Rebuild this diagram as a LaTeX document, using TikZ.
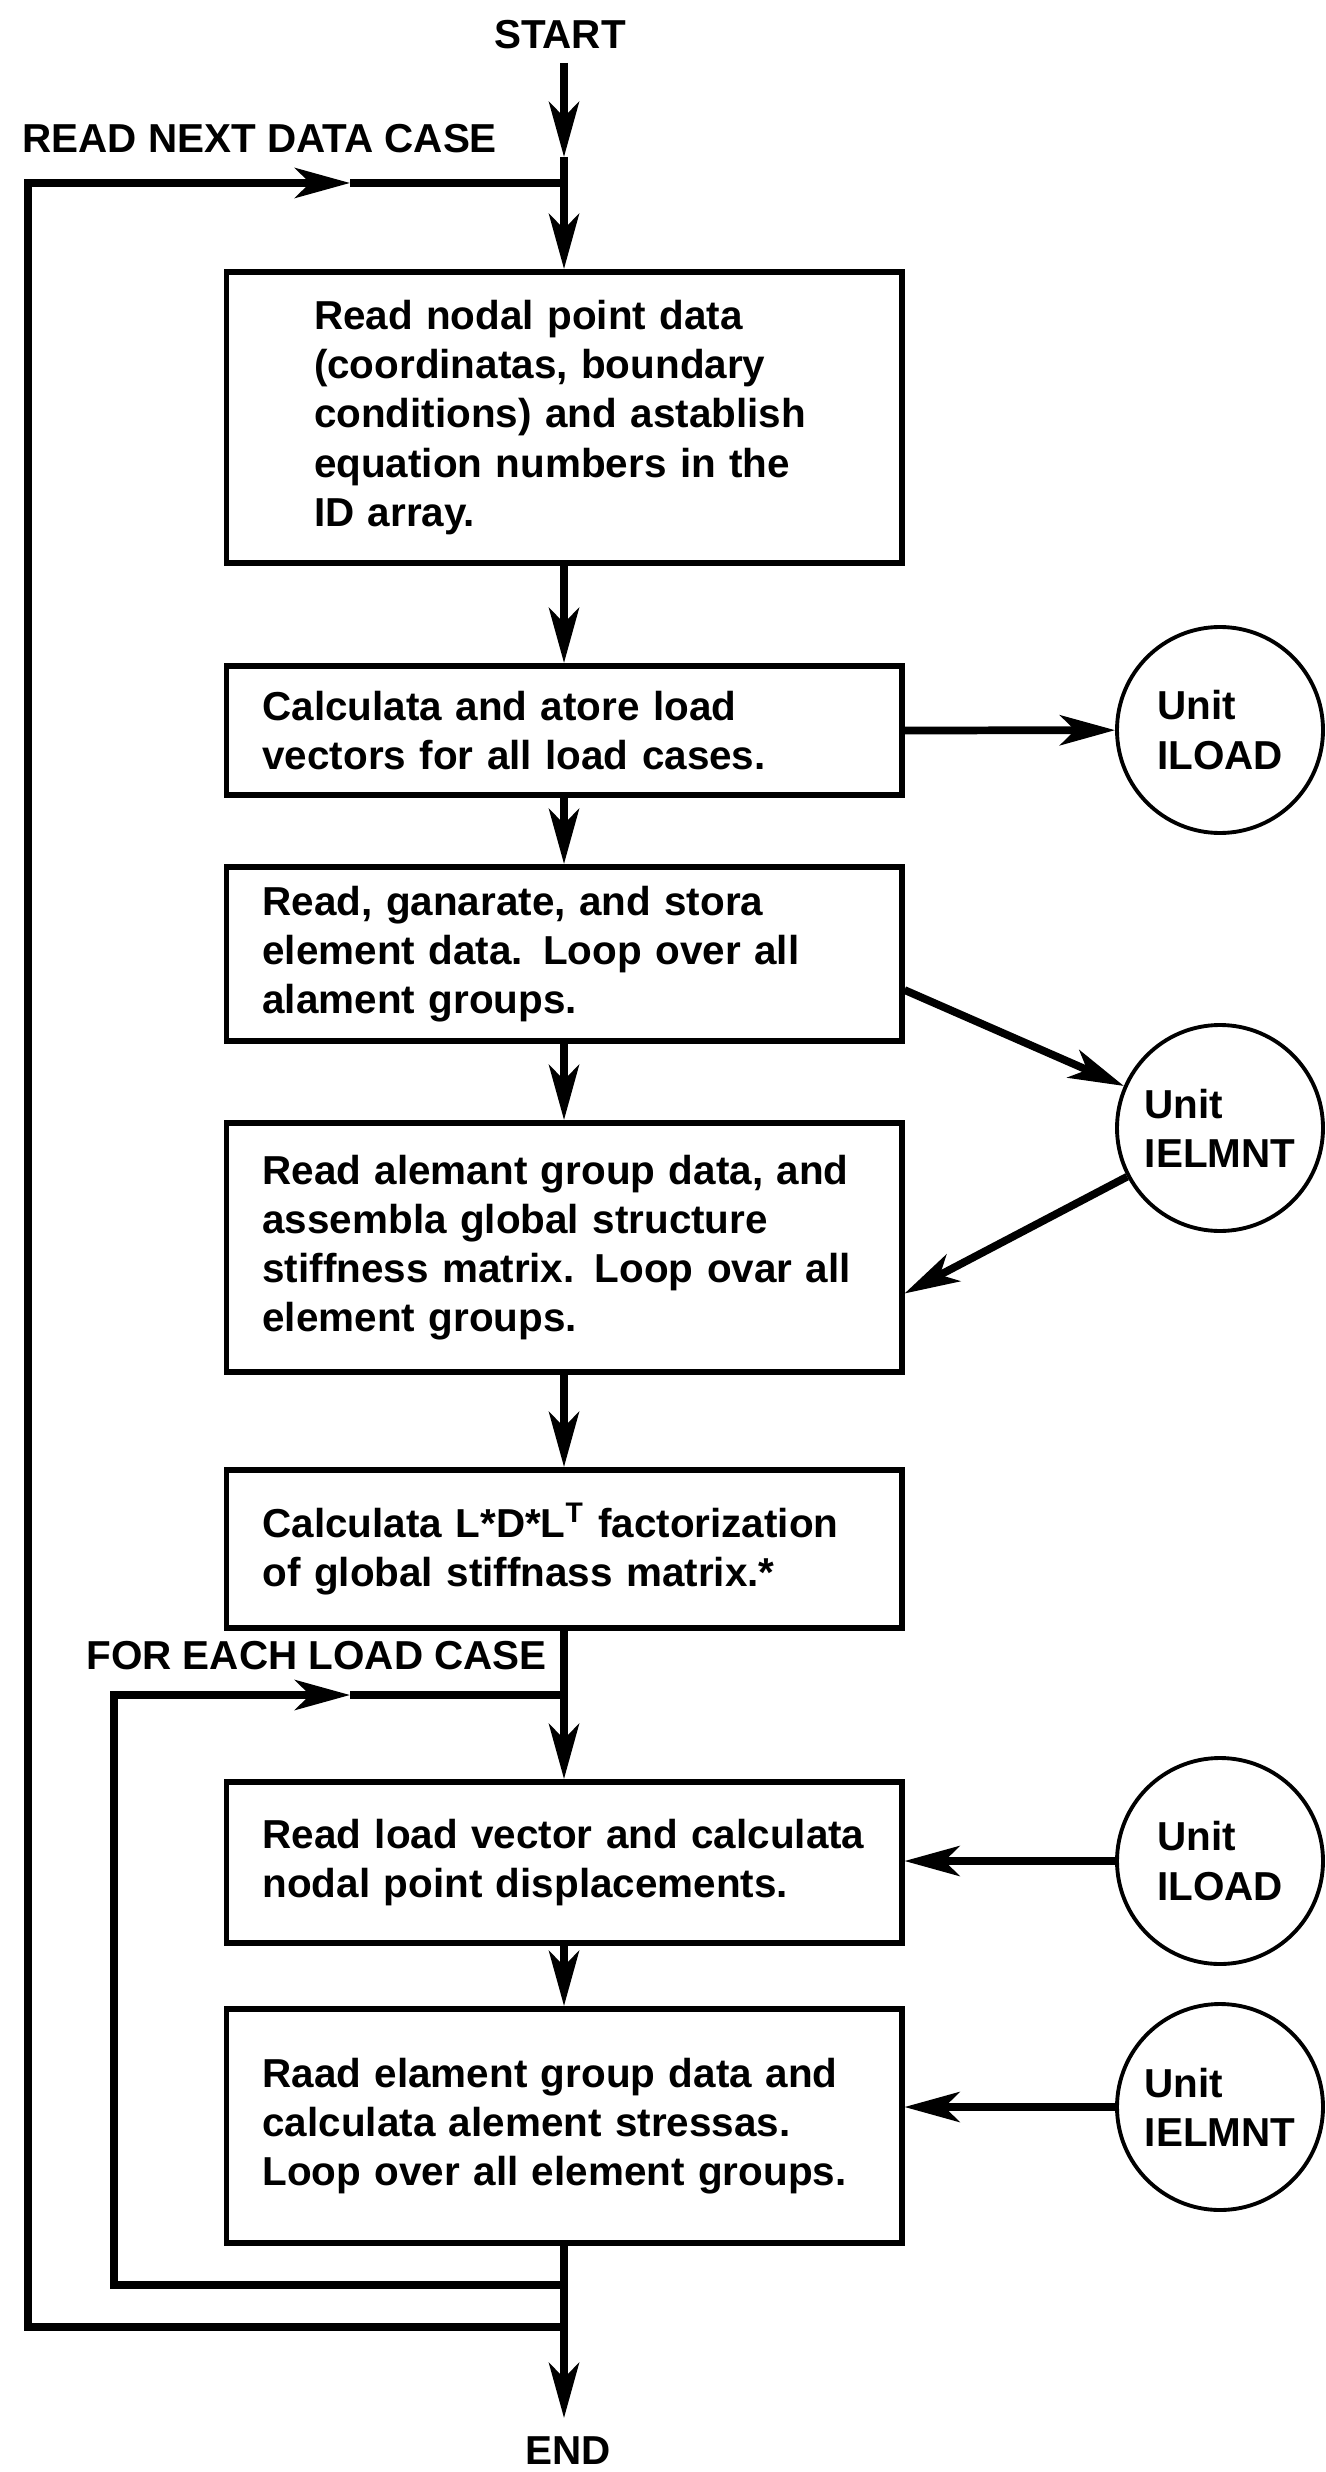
\documentclass[tikz,border=0pt]{standalone}
\usepackage{fontspec}
\setmainfont{Liberation Sans}
\usetikzlibrary{arrows.meta}

\begin{document}
\begin{tikzpicture}[
    font=\bfseries\fontsize{11.5}{14}\selectfont,
    stepbox/.style={draw, line width=1.7pt, minimum width=6.75cm, text width=6.03cm, inner xsep=0.36cm, align=left},
    unit/.style={draw, circle, line width=1.1pt, minimum size=2.06cm, inner sep=0pt, align=left},
    flow/.style={line width=2.2pt, -{Stealth[length=5.5mm, width=3mm, inset=1.5mm]}},
    link/.style={line width=2.2pt}
]
    \useasboundingbox (0,0) rectangle (13.25,-24.72);

    % Steps of the program
    \node[stepbox, text width=5cm, inner xsep=0.875cm, minimum height=2.91cm] (b1) at (5.64,-4.175) {Read nodal point data\\(coordinatas, boundary\\conditions) and astablish\\equation numbers in the\\ID array.};
    \node[stepbox, minimum height=1.29cm] (b2) at (5.64,-7.305) {Calculata and atore load\\vectors for all load cases.};
    \node[stepbox, minimum height=1.74cm] (b3) at (5.64,-9.54) {Read, ganarate, and stora\\element data. Loop over all\\alament groups.};
    \node[stepbox, minimum height=2.49cm] (b4) at (5.64,-12.475) {Read alemant group data, and\\assembla global structure\\stiffness matrix. Loop ovar all\\element groups.};
    \node[stepbox, minimum height=1.58cm] (b5) at (5.64,-15.49) {Calculata L*D*L\textsuperscript{T} factorization\\of global stiffnass matrix.*};
    \node[stepbox, minimum height=1.61cm] (b6) at (5.64,-18.625) {Read load vector and calculata\\nodal point displacements.};
    \node[stepbox, minimum height=2.34cm] (b7) at (5.64,-21.26) {Raad elament group data and\\calculata alement stressas.\\Loop over all element groups.};

    % Units
    \node[unit] (u1) at (12.2,-7.30) {Unit\\ILOAD};
    \node[unit] (u2) at (12.2,-11.28) {Unit\\IELMNT};
    \node[unit] (u3) at (12.2,-18.61) {Unit\\ILOAD};
    \node[unit] (u4) at (12.2,-21.07) {Unit\\IELMNT};

    % Labels
    \node (start) at (5.6,-0.35) {START};
    \node[anchor=base, inner sep=0pt] (end) at (5.68,-24.64) {END};
    \node[anchor=west] (rn) at (0.1,-1.39) {READ NEXT DATA CASE};
    \node[anchor=west] (fe) at (0.74,-16.56) {FOR EACH LOAD CASE};

    % Points on the main line
    \coordinate (s0) at (5.64,-0.63);
    \coordinate (a0) at (5.64,-1.57);
    \coordinate (j0) at (5.64,-1.83);
    \coordinate (j5) at (5.64,-16.95);
    \coordinate (j8) at (5.64,-22.85);
    \coordinate (j9) at (5.64,-23.27);
    \coordinate (e0) at (5.64,-24.18);

    % Main flow
    \draw[flow] (s0) -- (a0);
    \draw[flow] (a0) -- (b1.north);
    \draw[flow] (b1.south) -- (b2.north);
    \draw[flow] (b2.south) -- (b3.north);
    \draw[flow] (b3.south) -- (b4.north);
    \draw[flow] (b4.south) -- (b5.north);
    \draw[flow] (b5.south) -- (b6.north);
    \draw[flow] (b6.south) -- (b7.north);
    \draw[flow] (b7.south) -- (e0);

    % Loop over data cases
    \coordinate (c1) at (0.28,-23.27);
    \coordinate (c2) at (0.28,-1.83);
    \coordinate (m1) at (3.5,-1.83);
    \draw[flow] (j9) -- (c1) -- (c2) -- (m1);
    \draw[link] (m1) -- (j0);

    % Loop over load cases
    \coordinate (c3) at (1.14,-22.85);
    \coordinate (c4) at (1.14,-16.95);
    \coordinate (m2) at (3.5,-16.95);
    \draw[flow] (j8) -- (c3) -- (c4) -- (m2);
    \draw[link] (m2) -- (j5);

    % Links to the units
    \coordinate (p3) at ([yshift=-0.36cm]b3.east);
    \coordinate (p4) at ([yshift=-0.46cm]b4.east);
    \draw[flow] (b2.east) -- (u1);
    \draw[flow] (p3) -- (u2);
    \draw[flow] (u2) -- (p4);
    \draw[flow] (u3) -- (u3 -| b6.east);
    \draw[flow] (u4) -- (u4 -| b7.east);
\end{tikzpicture}
\end{document}
